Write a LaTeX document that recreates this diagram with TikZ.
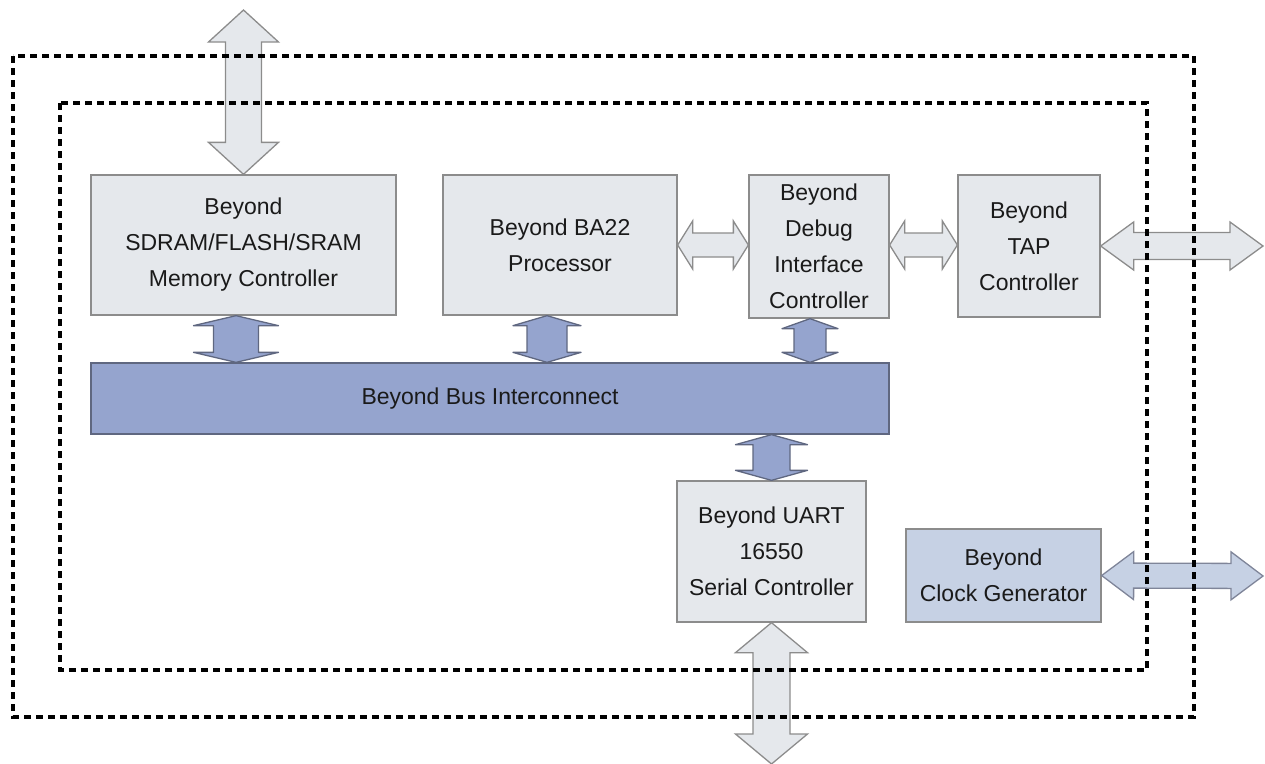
\documentclass[tikz,border=0pt]{standalone}
\usepackage{fontspec}
\setmainfont{Liberation Sans}
\usetikzlibrary{calc}

\definecolor{boxfill}{HTML}{E5E8EC}
\definecolor{boxline}{HTML}{8C8C8C}
\definecolor{busfill}{HTML}{95A4CE}
\definecolor{busline}{HTML}{5F6780}
\definecolor{clkfill}{HTML}{C6D1E4}
\definecolor{txt}{HTML}{1A1A1A}

% fat double arrow: [style]{from}{to}{half shaft}{half head}{head length}
\newcommand{\fatarrow}[6][]{%
  \path ($(#2)!#6!(#3)$) coordinate (fa1) ($(#3)!#6!(#2)$) coordinate (fa2);
  \draw[#1] (#2) -- ($(fa1)!#5!90:(#3)$) -- ($(fa1)!#4!90:(#3)$)
    -- ($(fa2)!#4!-90:(#2)$) -- ($(fa2)!#5!-90:(#2)$) -- (#3)
    -- ($(fa2)!#5!90:(#2)$) -- ($(fa2)!#4!90:(#2)$)
    -- ($(fa1)!#4!-90:(#3)$) -- ($(fa1)!#5!-90:(#3)$) -- cycle;
}

\tikzset{
  block/.style={draw=boxline, fill=boxfill, line width=1.3pt, align=center,
    inner sep=0pt, text=txt, font=\fontsize{23}{36}\selectfont},
  grayarrow/.style={draw=boxline, fill=boxfill, line width=1.3pt, line join=miter},
  bluearrow/.style={draw=busline, fill=busfill, line width=1.3pt, line join=round},
  border/.style={line width=3.3pt, dash pattern=on 7pt off 5pt},
}

\begin{document}
\begin{tikzpicture}[x=1pt, y=-1pt]
\useasboundingbox (0,0) rectangle (1265,763);

% blocks
\node[block, minimum width=305pt, minimum height=140pt] (mem) at (243.5,245)
  {Beyond\\SDRAM/FLASH/SRAM\\Memory Controller};
\node[block, minimum width=234pt, minimum height=140pt] (cpu) at (560,245)
  {Beyond BA22\\Processor};
\node[block, minimum width=140pt, minimum height=143pt] (dbg) at (819,246.5)
  {Beyond\\Debug\\Interface\\Controller};
\node[block, minimum width=142pt, minimum height=142pt] (tap) at (1029,246)
  {Beyond\\TAP\\Controller};
\node[block, fill=busfill, draw=busline, minimum width=798pt, minimum height=71pt] (bus) at (490,398.5)
  {Beyond Bus Interconnect};
\node[block, minimum width=189pt, minimum height=141pt] (uart) at (771.5,551.5)
  {Beyond UART\\16550\\Serial Controller};
\node[block, fill=clkfill, draw=boxline, minimum width=195pt, minimum height=93pt] (clk) at (1003.5,575.5)
  {Beyond\\Clock Generator};

% free ends
\coordinate (memext) at (243.5,10);
\coordinate (uartext) at (771.5,764);
\coordinate (tapext) at (1263,246);
\coordinate (clkext) at (1263,576);

% external and side links
\fatarrow[grayarrow]{memext}{mem.north}{18pt}{35pt}{32pt}
\fatarrow[grayarrow]{uart.south}{uartext}{18.5pt}{36pt}{30pt}
\fatarrow[grayarrow]{cpu.east |- 0,245}{dbg.west |- 0,245}{12pt}{24pt}{15pt}
\fatarrow[grayarrow]{dbg.east |- 0,245}{tap.west |- 0,245}{12pt}{24pt}{15pt}
\fatarrow[grayarrow]{tap.east}{tapext}{13.5pt}{24pt}{33pt}
\fatarrow[grayarrow, fill=clkfill, draw=busline!80]{clk.east}{clkext}{12.5pt}{24pt}{32pt}

% bus links
\fatarrow[bluearrow]{$(mem.south)+(-7.5,0)$}{$(bus.north -| mem.south)+(-7.5,0)$}{22.5pt}{42.5pt}{10pt}
\fatarrow[bluearrow]{$(cpu.south)+(-13,0)$}{$(bus.north -| cpu.south)+(-13,0)$}{20pt}{34pt}{10pt}
\fatarrow[bluearrow]{$(dbg.south)+(-9,0)$}{$(bus.north -| dbg.south)+(-9,0)$}{16pt}{28pt}{10pt}
\fatarrow[bluearrow]{bus.south -| uart.north}{uart.north}{18.5pt}{36pt}{10pt}

% chip boundaries
\draw[border] (13,56) rectangle (1194,717);
\draw[border] (60,103) rectangle (1147,670);
\end{tikzpicture}
\end{document}
